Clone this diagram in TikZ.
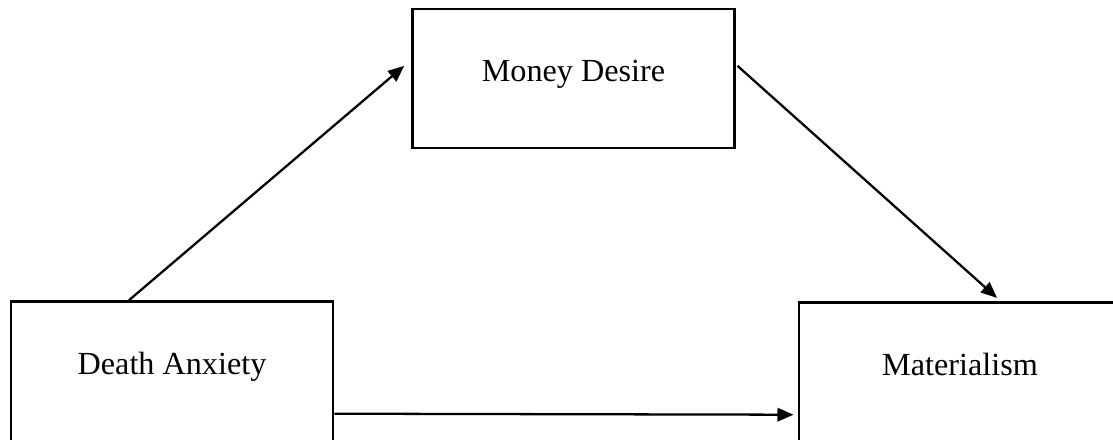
\documentclass[tikz,border=0pt]{standalone}
\usepackage{fontspec}
\setmainfont{Liberation Serif}
\usetikzlibrary{positioning,arrows.meta}

\begin{document}
\begin{tikzpicture}[x=0.3727pt, y=-0.3727pt, line width=1.05pt,
box/.style = {draw, rectangle, minimum width=120pt, minimum height=51.8pt, font=\fontsize{12}{14}\selectfont, text height=8pt, text depth=6pt},
low/.style = {minimum height=54pt, text height=8pt, text depth=7.5pt},
arr/.style = {line width=0.85pt, -{Triangle[length=6pt,width=5pt]}}]
\useasboundingbox (0,0) rectangle (1113,440);
\node[box, low] (anx) at (172,374) {Death Anxiety};
\node[box] (mon) at (573.5,78.5) {Money Desire};
\node[box, low] (mat) at (960,375) {Materialism};

\draw[arr] ([xshift=-16pt]anx.north) -- ([xshift=-2.6pt,yshift=4.7pt]mon.west);
\draw[arr] ([xshift=0.6pt,yshift=4.7pt]mon.east) -- ([xshift=13.8pt,yshift=1.2pt]mat.north);
\draw[arr] ([yshift=-14.8pt]anx.east) -- ([xshift=-1.5pt,yshift=-14.8pt]mat.west);
\end{tikzpicture}
\end{document}
